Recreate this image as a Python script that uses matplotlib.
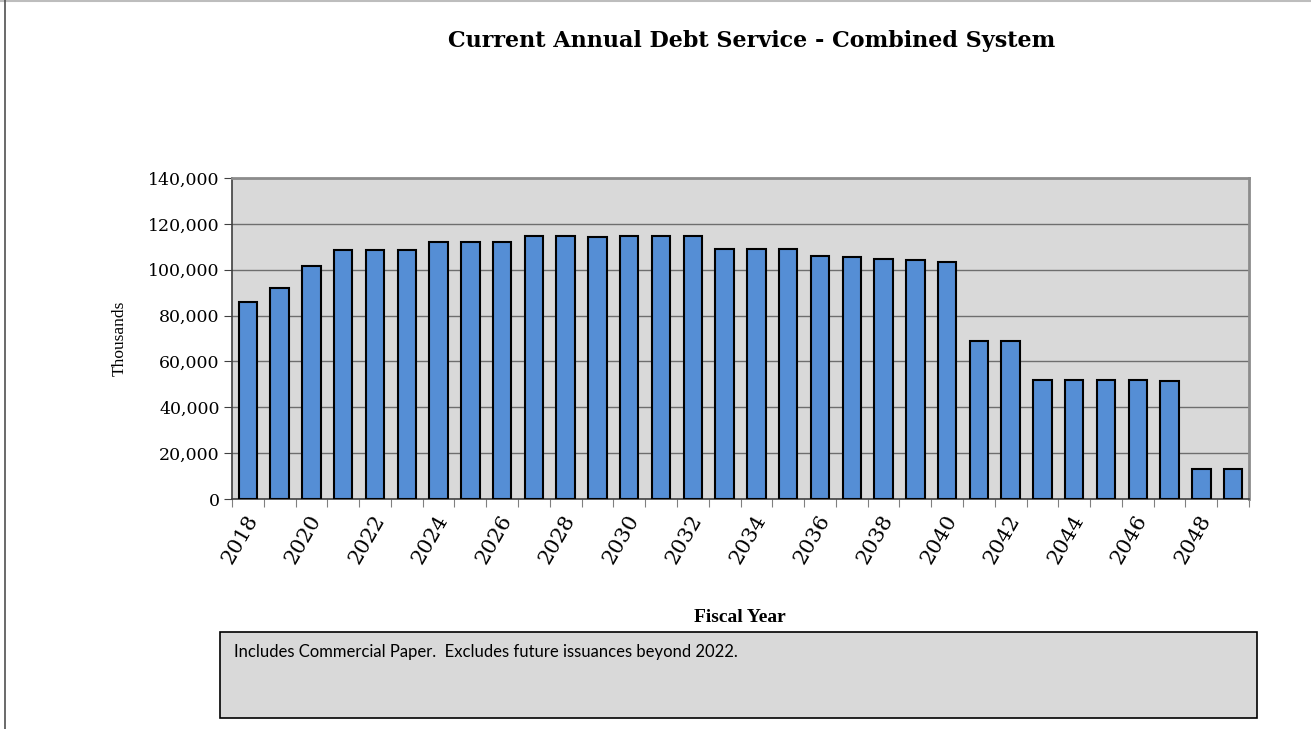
import matplotlib.pyplot as plt
import numpy as np
from matplotlib.patches import Rectangle
from matplotlib.ticker import FuncFormatter

# fiscal years and debt service (thousands)
years = list(range(2018, 2050))
debt_service = [85800, 92200, 101500, 108700, 108700, 108600, 112200, 112000,
                112000, 114900, 114900, 114300, 114600, 114700, 114900, 108900,
                108900, 108900, 105800, 105500, 104800, 104200, 103400, 68800,
                68800, 51700, 52000, 51900, 51700, 51600, 13200, 13200]
y_ticks = [0, 20000, 40000, 60000, 80000, 100000, 120000, 140000]

serif = 'Liberation Serif'
wide_serif = 'DejaVu Serif'
W, H = 1311, 729
fig = plt.figure(figsize=(W / 100, H / 100), dpi=100)

ax = fig.add_axes([232 / W, 1 - 499 / H, (1249 - 232) / W, (499 - 178) / H])
ax.set_facecolor('#d9d9d9')
x = np.arange(len(years))
ax.bar(x, debt_service, width=0.58, color='#558ed5', edgecolor='black',
       linewidth=1.5, zorder=3)

ax.set_xlim(-0.5, len(years) - 0.5)
ax.set_ylim(0, 140000)
ax.set_yticks(y_ticks)
ax.yaxis.set_major_formatter(FuncFormatter(lambda v, p: f'{int(v):,}'))
ax.grid(axis='y', color='#6e6e6e', linewidth=1, zorder=1)

# ticks between categories, labels on every other year
ax.set_xticks(np.arange(-0.5, len(years), 1))
ax.set_xticklabels([])
ax.tick_params(axis='x', which='major', length=6, color='#808080', direction='out')
ax.set_xticks(x[::2] - 0.1, minor=True)
ax.set_xticklabels([str(y) for y in years[::2]], minor=True, rotation=60,
                   ha='right', va='top', rotation_mode='anchor',
                   fontsize=15, family=wide_serif)
ax.tick_params(axis='x', which='minor', length=0, pad=9)
ax.tick_params(axis='y', length=6, color='#404040', labelsize=12.5, pad=3)
for lab in ax.get_yticklabels():
    lab.set_family(wide_serif)

for side in ['left', 'bottom']:
    ax.spines[side].set_color('#404040')
    ax.spines[side].set_linewidth(1.2)
for side in ['top', 'right']:
    ax.spines[side].set_color('#8c8c8c')
    ax.spines[side].set_linewidth(2)

fig.text(752 / W, 1 - 41 / H, 'Current Annual Debt Service - Combined System',
         ha='center', va='center', fontsize=16, fontweight='bold', family=wide_serif)
fig.text(120 / W, 1 - 338 / H, 'Thousands', rotation=90, ha='center',
         va='center', fontsize=12.5, family=serif)
fig.text(740 / W, 1 - 617 / H, 'Fiscal Year', ha='center', va='center',
         fontsize=14, fontweight='bold', family=serif)

# footnote box
fig.add_artist(Rectangle((220 / W, 1 - 718 / H), (1257 - 220) / W, (718 - 632) / H,
                         transform=fig.transFigure, facecolor='#d9d9d9',
                         edgecolor='black', linewidth=1.2))
fig.text(234 / W, 1 - 652 / H,
         'Includes Commercial Paper.  Excludes future issuances beyond 2022.',
         ha='left', va='center', fontsize=12, family='Lato')

# page frame
fig.add_artist(plt.Line2D([0, 1], [1 - 0.5 / H, 1 - 0.5 / H], transform=fig.transFigure,
                          color='#bdbdbd', linewidth=1.5))
fig.add_artist(plt.Line2D([4.5 / W, 4.5 / W], [0, 1], transform=fig.transFigure,
                          color='#505050', linewidth=1.2))

fig.savefig('out.png', dpi=100)
